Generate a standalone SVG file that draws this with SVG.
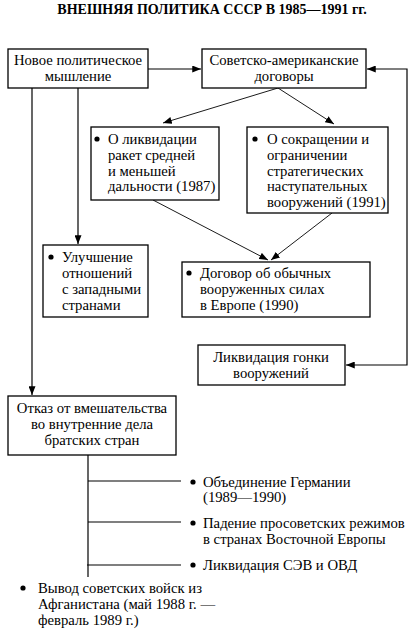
<svg xmlns="http://www.w3.org/2000/svg" width="419" height="632" viewBox="0 0 419 632">
<style>
text{font-family:"Liberation Serif","Times New Roman",serif;font-size:14.7px;fill:#000}
.t{font-weight:bold;font-size:14px}
.c{text-anchor:middle}
rect{fill:#fff;stroke:#000;stroke-width:1.3}
.ln{fill:none;stroke:#000;stroke-width:1.2}
.thin{fill:none;stroke:#000;stroke-width:0.9}
circle{fill:#000}
</style>
<defs>
<marker id="ah" viewBox="0 0 10 8" refX="10" refY="4" markerWidth="9" markerHeight="7" markerUnits="userSpaceOnUse" orient="auto-start-reverse">
<path d="M0,0 L10,4 L0,8 z" fill="#000"/>
</marker>
</defs>
<rect x="0" y="0" width="419" height="632" style="fill:#fff;stroke:none"/>
<text class="t c" x="212" y="14">ВНЕШНЯЯ ПОЛИТИКА СССР В 1985—1991 гг.</text>

<g id="connectors">
<line class="ln" x1="148" y1="69" x2="201" y2="69" marker-end="url(#ah)"/>
<polyline class="ln" points="367,69 407,69 407,365 346,365" marker-start="url(#ah)" marker-end="url(#ah)"/>
<line class="ln" x1="78" y1="88" x2="78" y2="244" marker-end="url(#ah)"/>
<line class="ln" x1="32" y1="88" x2="32" y2="395" marker-end="url(#ah)"/>
<line class="thin" x1="278" y1="88" x2="163" y2="123" marker-end="url(#ah)"/>
<line class="thin" x1="278" y1="88" x2="334" y2="124" marker-end="url(#ah)"/>
<line class="thin" x1="153" y1="200" x2="268" y2="260" marker-end="url(#ah)"/>
<line class="thin" x1="332" y1="213" x2="271" y2="260" marker-end="url(#ah)"/>
<polyline class="ln" points="88,455 88,577"/>
<line class="ln" x1="88" y1="481" x2="181" y2="481"/>
<line class="ln" x1="88" y1="522" x2="181" y2="522"/>
<line class="ln" x1="87" y1="565" x2="181" y2="565"/>
</g>

<g id="n1">
<rect x="8" y="49" width="140" height="39"/>
<text class="c" x="78" y="65">Новое политическое</text>
<text class="c" x="78" y="81">мышление</text>
</g>
<g id="n2">
<rect x="202" y="49" width="164" height="39"/>
<text class="c" x="284" y="65">Советско-американские</text>
<text class="c" x="284" y="81">договоры</text>
</g>
<g id="n3">
<rect x="91" y="127" width="128" height="73"/>
<circle cx="97" cy="139" r="2.6"/>
<text x="108" y="144">О ликвидации</text>
<text x="108" y="160">ракет средней</text>
<text x="108" y="176">и меньшей</text>
<text x="108" y="191">дальности (1987)</text>
</g>
<g id="n4">
<rect x="247" y="127" width="141" height="86"/>
<circle cx="255" cy="139" r="2.6"/>
<text x="267" y="144">О сокращении и</text>
<text x="267" y="160">ограничении</text>
<text x="267" y="176">стратегических</text>
<text x="267" y="191">наступательных</text>
<text x="267" y="207">вооружений (1991)</text>
</g>
<g id="n5">
<rect x="43" y="245" width="105" height="72"/>
<circle cx="51" cy="257" r="2.6"/>
<text x="62" y="262">Улучшение</text>
<text x="62" y="278">отношений</text>
<text x="62" y="294">с западными</text>
<text x="62" y="310">странами</text>
</g>
<g id="n6">
<rect x="182" y="262" width="188" height="55"/>
<circle cx="189" cy="273" r="2.6"/>
<text x="200" y="278">Договор об обычных</text>
<text x="200" y="294">вооруженных силах</text>
<text x="200" y="310">в Европе (1990)</text>
</g>
<g id="n7">
<rect x="198" y="345" width="147" height="40"/>
<text class="c" x="271" y="362">Ликвидация гонки</text>
<text class="c" x="271" y="378">вооружений</text>
</g>
<g id="n8">
<rect x="8" y="396" width="168" height="59"/>
<text class="c" x="92" y="413">Отказ от вмешательства</text>
<text class="c" x="92" y="429">во внутренние дела</text>
<text class="c" x="92" y="445">братских стран</text>
</g>
<g id="n9">
<circle cx="193" cy="482" r="2.6"/>
<text x="203" y="487">Объединение Германии</text>
<text x="203" y="502">(1989—1990)</text>
</g>
<g id="n10">
<circle cx="193" cy="523" r="2.6"/>
<text x="203" y="528">Падение просоветских режимов</text>
<text x="203" y="544">в странах Восточной Европы</text>
</g>
<g id="n11">
<circle cx="193" cy="565" r="2.6"/>
<text x="203" y="570">Ликвидация СЭВ и ОВД</text>
</g>
<g id="n12">
<circle cx="23" cy="588" r="2.6"/>
<text x="38" y="593">Вывод советских войск из</text>
<text x="38" y="609">Афганистана (май 1988 г. —</text>
<text x="38" y="625">февраль 1989 г.)</text>
</g>
</svg>
